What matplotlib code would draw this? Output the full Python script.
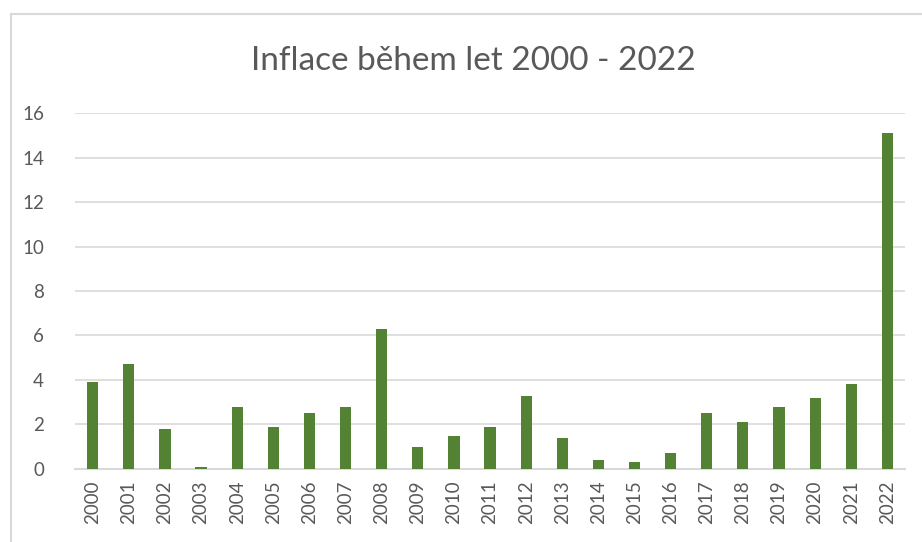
import matplotlib.pyplot as plt
from matplotlib.lines import Line2D

years = [str(y) for y in range(2000, 2023)]
inflation = [3.9, 4.7, 1.8, 0.1, 2.8, 1.9, 2.5, 2.8, 6.3, 1.0, 1.5, 1.9,
             3.3, 1.4, 0.4, 0.3, 0.7, 2.5, 2.1, 2.8, 3.2, 3.8, 15.1]
yticks = [0, 2, 4, 6, 8, 10, 12, 14, 16]

BAR = "#548235"
GRID = "#d9d9d9"
TEXT = "#595959"

plt.rcParams["font.family"] = ["Lato", "DejaVu Sans"]

fig = plt.figure(figsize=(9.22, 5.42), dpi=100, facecolor="white")
ax = fig.add_axes([0.081, 0.1347, 0.901, 0.6568])

x = range(len(years))
ax.bar(x, inflation, width=0.31, color=BAR, zorder=3)

ax.set_xlim(-0.5, len(years) - 0.5)
ax.set_ylim(0, 16)
ax.set_yticks(yticks)
ax.set_xticks(list(x))
ax.set_xticklabels(years, rotation=90)
ax.tick_params(axis="both", length=0, colors=TEXT, labelsize=13.5)
ax.tick_params(axis="y", pad=22)
ax.tick_params(axis="x", pad=8)
ax.grid(axis="y", color=GRID, linewidth=1.2, zorder=0)
for side in ["top", "right", "left"]:
    ax.spines[side].set_visible(False)
ax.spines["bottom"].set_color(GRID)
ax.spines["bottom"].set_linewidth(1.5)

fig.text(0.513, 0.888, "Inflace během let 2000 - 2022", ha="center", va="center",
         fontsize=24, color=TEXT)

# chart area border (only left and top edges visible in the crop)
fig.add_artist(Line2D([0.0115, 0.0115], [0, 0.974], color=GRID, linewidth=1.5,
                      transform=fig.transFigure))
fig.add_artist(Line2D([0.0115, 1.0], [0.974, 0.974], color=GRID, linewidth=1.5,
                      transform=fig.transFigure))

fig.savefig("out.png", dpi=100, facecolor="white")
